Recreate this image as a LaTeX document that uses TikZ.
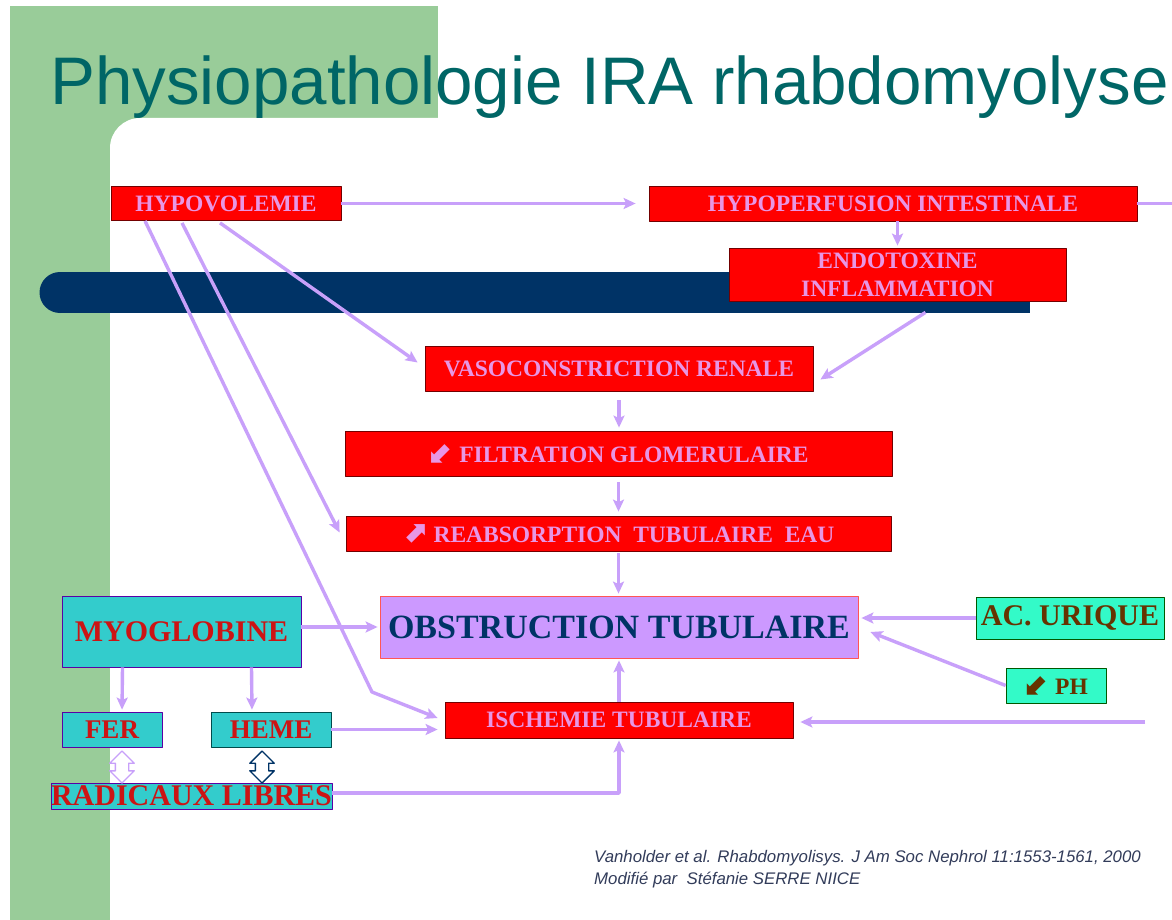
\documentclass[tikz,border=0pt]{standalone}
\usepackage{fontspec}
\setmainfont{Liberation Serif}
\newfontfamily\titlefont{Liberation Sans}
\newfontfamily\arrowfont{DejaVu Sans}
\usetikzlibrary{arrows.meta,calc,shapes.arrows}

\definecolor{slidegreen}{RGB}{153,204,153}
\definecolor{barblue}{RGB}{0,51,102}
\definecolor{titleteal}{RGB}{0,102,102}
\definecolor{pinktext}{RGB}{232,150,228}
\definecolor{arrowlav}{RGB}{200,160,250}
\definecolor{turq}{RGB}{51,204,204}
\definecolor{aqua}{RGB}{51,250,200}
\definecolor{darkred}{RGB}{204,20,20}
\definecolor{browntext}{RGB}{102,51,0}
\definecolor{obstfill}{RGB}{204,153,255}
\definecolor{refgray}{RGB}{50,60,90}

\tikzset{
  redbox/.style={draw=red!45!black, fill=red, text=pinktext, line width=0.8pt,
    inner sep=0pt, align=center, font=\fontsize{23.5}{28}\selectfont\bfseries},
  cyanbox/.style={draw=violet!70!blue, fill=turq, text=darkred, line width=0.8pt,
    inner sep=0pt, font=\fontsize{30}{34}\selectfont\bfseries},
  aquabox/.style={draw=green!35!black, fill=aqua, text=browntext, line width=0.8pt,
    inner sep=0pt, font=\fontsize{30}{34}\selectfont\bfseries},
  flow/.style={draw=arrowlav, line width=3.4pt, -{Stealth[length=12pt,width=11pt,inset=2.5pt]}},
  flowline/.style={draw=arrowlav, line width=3.4pt},
  linkarrow/.style={double arrow, rotate=90, fill=white, line width=1.4pt, inner sep=0pt,
    minimum height=32pt, double arrow head extend=5.5pt}
}

\begin{document}
\begin{tikzpicture}[x=1pt,y=-1pt,line join=round]
\useasboundingbox (0,0) rectangle (1172,920);
% slide background
\fill[slidegreen] (10,6) rectangle (438,920);
\fill[white,rounded corners=30pt] (110,118) rectangle (1230,980);
\fill[barblue] (60,272) rectangle (1030,313);
\fill[barblue] (60,292.5) circle (20.5pt);
\node[anchor=base west, inner sep=0pt, text=titleteal,
  font=\titlefont\fontsize{67.3}{72}\selectfont] (title) at (50,105) {Physiopathologie IRA rhabdomyolyse};

% boxes
\node[redbox, minimum width=230pt, minimum height=34pt] (hypo) at (226,203.5) {HYPOVOLEMIE};
\node[redbox, minimum width=488pt, minimum height=35pt] (hypoperf) at (893,203.5) {HYPOPERFUSION INTESTINALE};
\node[redbox, minimum width=337pt, minimum height=53pt] (endo) at (897.5,274.5) {ENDOTOXINE\\INFLAMMATION};
\node[redbox, minimum width=388pt, minimum height=45pt] (vaso) at (619,368.5) {VASOCONSTRICTION RENALE};
\node[redbox, minimum width=547pt, minimum height=45pt] (filt) at (618.5,453.5) {{\arrowfont\bfseries\fontsize{30}{30}\selectfont ⬋} FILTRATION GLOMERULAIRE};
\node[redbox, minimum width=545pt, minimum height=35pt] (reab) at (618.5,533.5) {{\arrowfont\bfseries\fontsize{30}{30}\selectfont ⬈} REABSORPTION\ \ TUBULAIRE\ \ EAU};
\node[draw=red!55!pink, fill=obstfill, text=barblue, line width=0.8pt, inner sep=0pt,
  minimum width=478pt, minimum height=62pt, font=\fontsize{34}{38}\selectfont\bfseries] (obst) at (619,627) {OBSTRUCTION TUBULAIRE};
\node[redbox, minimum width=348pt, minimum height=36pt] (isch) at (619,720) {ISCHEMIE TUBULAIRE};
\node[cyanbox, minimum width=239pt, minimum height=71pt] (myo) at (181.5,631.5) {MYOGLOBINE};
\node[cyanbox, minimum width=100pt, minimum height=35pt, font=\fontsize{27}{30}\selectfont\bfseries] (fer) at (112,729.5) {FER};
\node[cyanbox, draw=teal!60!black, minimum width=120pt, minimum height=35pt, font=\fontsize{27}{30}\selectfont\bfseries] (heme) at (271,729.5) {HEME};
\node[cyanbox, minimum width=279pt, minimum height=26pt] (radic) at (191.5,796) {RADICAUX LIBRES};
\node[aquabox, minimum width=188pt, minimum height=42pt] (acu) at (1070,618) {AC. URIQUE};
\node[aquabox, minimum width=100pt, minimum height=35pt, font=\fontsize{23.5}{28}\selectfont\bfseries] (ph) at (1056,685.5) {{\arrowfont\bfseries\fontsize{30}{30}\selectfont ⬋} PH};

% free ends of the lines leaving the slide
\coordinate (offtop) at (1172,203.5);
\coordinate (offlow) at (1145,722);
\coordinate (ischbend) at (372,692);

% connectors
\draw[flow] (hypo.east) -- ([xshift=-13pt]hypoperf.west);
\draw[flowline] (hypoperf.east) -- (offtop);
\draw[flow, shorten >=2pt] (hypoperf.south -| endo.north) -- (endo.north);
\draw[flow] ($(endo.south)+(28,11)$) -- ($(vaso.east)+(7,11)$);
\draw[flow] ($(hypo.south)+(-6,2)$) -- ($(vaso.west)+(-7,-6)$);
\draw[flow] ($(hypo.south)+(-44,2)$) -- ($(reab.west)+(-6,-1)$);
\draw[flow] ($(hypo.south)+(-81,0)$) -- (ischbend) -- ($(isch.west)+(-7,-2)$);
\draw[flow, shorten <=9pt, shorten >=3pt] (vaso.south) -- (vaso.south |- filt.north);
\draw[flow, shorten <=6pt, shorten >=4pt] (filt.south) -- (filt.south |- reab.north);
\draw[flow, shorten <=2pt, shorten >=2pt] (reab.south) -- (reab.south |- obst.north);
\draw[flow, shorten >=2pt] (myo.east |- obst.west) -- (obst.west);
\draw[flow, shorten >=3pt] (acu.west) -- (obst.east |- acu.west);
\draw[flow] (ph.west) -- ($(obst.east)+(12,5)$);
\draw[flow, shorten >=2pt] (isch.north) -- (obst.south);
\draw[flow, shorten >=2pt] ($(myo.south)+(-59,0)$) -- ($(fer.north)+(10,0)$);
\draw[flow, shorten >=2pt] ($(myo.south)+(70,0)$) -- ($(heme.north)+(-19,0)$);
\draw[flow, shorten >=7pt] (heme.east) -- (isch.west |- heme.east);
\draw[flow] ($(radic.east)+(0,-3)$) -| ($(isch.south)+(0,2)$);
\draw[flow] (offlow) -- ($(isch.east)+(7,2)$);
\node[linkarrow, draw=arrowlav] (ferlink) at (122,767) {\rule{0pt}{12pt}};
\node[linkarrow, draw=barblue] (hemelink) at (262,767) {\rule{0pt}{12pt}};

% reference
\node[anchor=north west, align=left, inner sep=0pt, text=refgray,
  font=\titlefont\itshape\fontsize{16.8}{22}\selectfont] (ref) at (594,850)
  {Vanholder et al. Rhabdomyolisys. J Am Soc Nephrol 11:1553-1561, 2000\\Modifié par\ \ Stéfanie SERRE NIICE};
\end{tikzpicture}
\end{document}
